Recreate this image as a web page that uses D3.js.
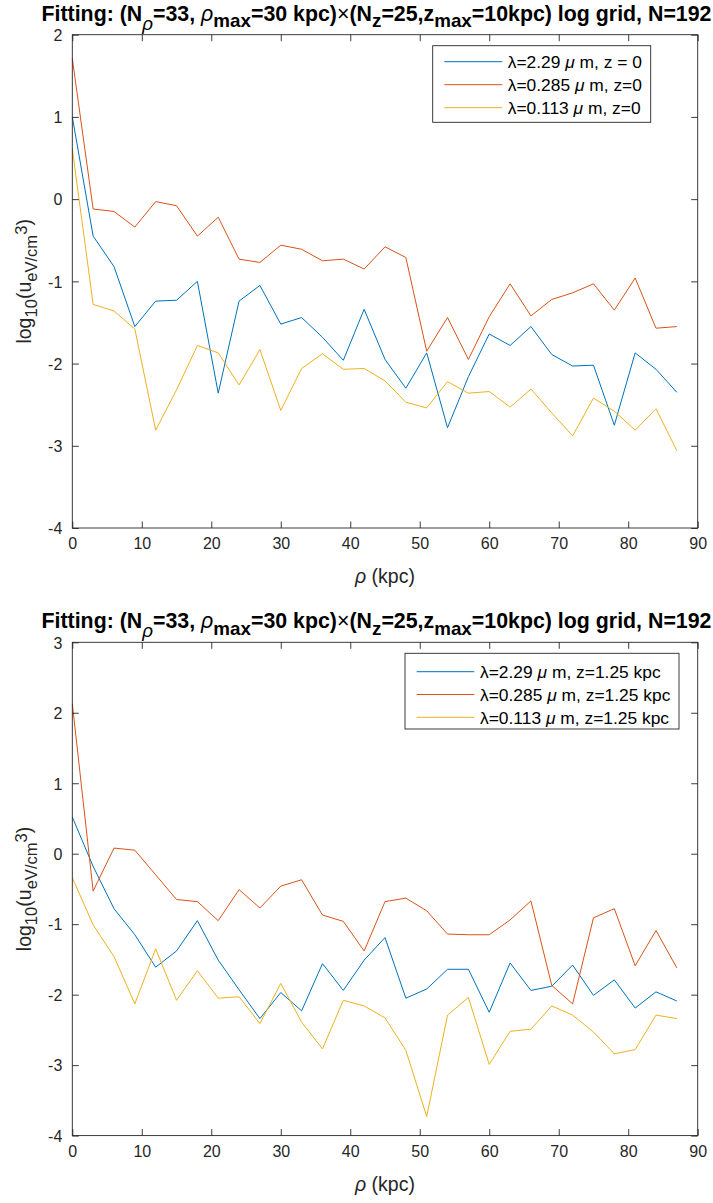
<!DOCTYPE html>
<html><head><meta charset="utf-8">
<script src="https://cdn.jsdelivr.net/npm/d3@7"></script>
<style>body{margin:0;background:#fff} svg{display:block}</style>
</head><body><svg id="c" width="713" height="1203"></svg>
<script>
// ---------- data ----------
const rho = [0,3,6,9,12,15,18,21,24,27,30,33,36,39,42,45,48,51,54,57,60,63,66,69,72,75,78,81,84,87];
const xTicks = [0,10,20,30,40,50,60,70,80,90];

// panel 1 : z = 0
const z0_l229  = [1.00,-0.45,-0.82,-1.55,-1.24,-1.23,-1.00,-2.36,-1.24,-1.05,-1.52,-1.44,-1.68,-1.96,-1.34,-1.95,-2.30,-1.87,-2.78,-2.16,-1.64,-1.78,-1.55,-1.89,-2.03,-2.02,-2.75,-1.87,-2.07,-2.35];
const z0_l0285 = [1.71,-0.12,-0.15,-0.34,-0.03,-0.08,-0.45,-0.22,-0.73,-0.77,-0.56,-0.61,-0.75,-0.73,-0.85,-0.58,-0.71,-1.85,-1.44,-1.95,-1.43,-1.03,-1.42,-1.22,-1.14,-1.03,-1.35,-0.96,-1.57,-1.55];
const z0_l0113 = [0.61,-1.28,-1.36,-1.58,-2.81,-2.32,-1.78,-1.87,-2.26,-1.83,-2.57,-2.06,-1.88,-2.07,-2.06,-2.21,-2.47,-2.54,-2.22,-2.36,-2.34,-2.53,-2.31,-2.60,-2.88,-2.42,-2.58,-2.81,-2.55,-3.06];
const z0_labels = ["λ=2.29 μ m, z = 0","λ=0.285 μ m, z=0","λ=0.113 μ m, z=0"];
const yTicks1 = [-4,-3,-2,-1,0,1,2];

// panel 2 : z = 1.25 kpc
const z125_l229  = [0.52,-0.18,-0.78,-1.15,-1.61,-1.38,-0.95,-1.51,-1.93,-2.34,-1.97,-2.23,-1.56,-1.94,-1.51,-1.19,-2.05,-1.92,-1.64,-1.64,-2.25,-1.55,-1.94,-1.88,-1.58,-2.01,-1.79,-2.19,-1.96,-2.09];
const z125_l0285 = [2.13,-0.53,0.08,0.05,-0.30,-0.65,-0.68,-0.95,-0.51,-0.77,-0.46,-0.37,-0.87,-0.96,-1.38,-0.68,-0.63,-0.81,-1.14,-1.15,-1.15,-0.94,-0.67,-1.87,-2.13,-0.91,-0.78,-1.59,-1.09,-1.62];
const z125_l0113 = [-0.34,-1.01,-1.46,-2.13,-1.35,-2.08,-1.66,-2.05,-2.03,-2.41,-1.84,-2.39,-2.77,-2.08,-2.16,-2.33,-2.79,-3.73,-2.29,-2.04,-2.99,-2.52,-2.49,-2.16,-2.29,-2.53,-2.84,-2.78,-2.29,-2.34];
const z125_labels = ["λ=2.29 μ m, z=1.25 kpc","λ=0.285 μ m, z=1.25 kpc","λ=0.113 μ m, z=1.25 kpc"];
const yTicks2 = [-4,-3,-2,-1,0,1,2,3];

const colors = ["#0072BD","#D95319","#EDB120"];

// ---------- drawing ----------
const svg = d3.select("#c");
const FONT = "'Liberation Sans', Arial, Helvetica, sans-serif";
const AX = "#262626";
const L = 72.3, R = 697.7;

function rich(g, segs, baseFs) {
  let cur = 0;
  segs.forEach(sg => {
    const target = sg.s === 'sub' ? (sg.off ?? 0.35*baseFs) : sg.s === 'sup' ? -(sg.off ?? 0.4*baseFs) : 0;
    const ts = g.append("tspan").text(sg.t).attr("dy", target - cur);
    cur = target;
    if (sg.fs) ts.attr("font-size", sg.fs);
    if (sg.it) ts.attr("font-style", "italic");
    if (sg.nb) ts.attr("font-weight", "normal");
  });
}

function titleSegs(fs) {
  const sfs = fs*0.88;
  return [
    {t:"Fitting: (N"},
    {t:"ρ", s:'sub', fs:sfs, it:true, nb:true, off:fs*0.42},
    {t:"=33, "},
    {t:"ρ", it:true, nb:true},
    {t:"max", s:'sub', fs:sfs, off:fs*0.3},
    {t:"=30 kpc)"},
    {t:"×", nb:true},
    {t:"(N"},
    {t:"z", s:'sub', fs:sfs, off:fs*0.3},
    {t:"=25,z"},
    {t:"max", s:'sub', fs:sfs, off:fs*0.3},
    {t:"=10kpc) log grid, N=192"}
  ];
}

function panel(cfg) {
  const x = d3.scaleLinear().domain([0,90]).range([L,R]);
  const y = d3.scaleLinear().domain(cfg.yDomain).range([cfg.bottom, cfg.top]);
  const g = svg.append("g");

  const line = d3.line().x((d,i)=>x(rho[i])).y(d=>y(d));
  cfg.series.forEach((s,i)=>{
    g.append("path").datum(s).attr("d", line).attr("fill","none")
      .attr("stroke", colors[i]).attr("stroke-width", 1).attr("stroke-linejoin","round");
  });

  g.append("rect").attr("x",L).attr("y",cfg.top).attr("width",R-L).attr("height",cfg.bottom-cfg.top)
    .attr("fill","none").attr("stroke",AX).attr("stroke-width",0.9);

  const tl = 6.5;
  const xa = d3.axisBottom(x).tickValues(xTicks).tickSizeInner(-tl).tickSizeOuter(0).tickPadding(10).tickFormat(d3.format("d"));
  const gx = g.append("g").attr("transform",`translate(0,${cfg.bottom})`).call(xa);
  const xt = d3.axisTop(x).tickValues(xTicks).tickSizeInner(-tl).tickSizeOuter(0).tickFormat("");
  const gxt = g.append("g").attr("transform",`translate(0,${cfg.top})`).call(xt);
  const ya = d3.axisLeft(y).tickValues(cfg.yTicks).tickSizeInner(-tl).tickSizeOuter(0).tickPadding(10).tickFormat(d3.format("d"));
  const gy = g.append("g").attr("transform",`translate(${L},0)`).call(ya);
  const yr = d3.axisRight(y).tickValues(cfg.yTicks).tickSizeInner(-tl).tickSizeOuter(0).tickFormat("");
  const gyr = g.append("g").attr("transform",`translate(${R},0)`).call(yr);
  [gx,gxt,gy,gyr].forEach(a=>{
    a.select(".domain").remove();
    a.selectAll("line").attr("stroke",AX).attr("stroke-width",0.9);
    a.selectAll("text").attr("fill",AX).attr("font-family",FONT).attr("font-size",16);
  });
  gx.selectAll("text").attr("dy","0.71em");
  gy.selectAll("text").attr("dy","0.36em").text(d=> d<0 ? "-"+Math.abs(d) : d);

  // title
  const tf = 21.3;
  const tt = g.append("text").attr("x", 376.5).attr("y", cfg.top - 14)
    .attr("text-anchor","middle").attr("font-family",FONT).attr("font-weight","bold")
    .attr("font-size",tf).attr("fill","#000")
    .attr("textLength", 670).attr("lengthAdjust","spacingAndGlyphs");
  rich(tt, titleSegs(tf), tf);

  // x label
  const lf = 19.5;
  const xl = g.append("text").attr("x",(L+R)/2).attr("y",cfg.bottom+55)
    .attr("text-anchor","middle").attr("font-family",FONT).attr("font-size",lf).attr("fill",AX);
  rich(xl, [{t:"ρ", it:true},{t:" (kpc)"}], lf);

  // y label
  const yl = g.append("text").attr("transform",`translate(31,${(cfg.top+cfg.bottom)/2}) rotate(-90)`)
    .attr("text-anchor","middle").attr("font-family",FONT).attr("font-size",lf).attr("fill",AX);
  rich(yl, [{t:"log"},{t:"10", s:'sub', fs:lf*0.85, off:lf*0.3},{t:"(u"},
            {t:"eV/cm", s:'sub', fs:lf*0.85, off:lf*0.3},{t:"3", s:'sup', fs:lf*0.85, off:lf*0.2},{t:")"}], lf);

  // legend
  const lg = cfg.legend;
  const gl = g.append("g");
  gl.append("rect").attr("x",lg.x).attr("y",lg.y).attr("width",lg.w).attr("height",lg.h)
    .attr("fill","#fff").attr("stroke",AX).attr("stroke-width",0.9);
  cfg.labels.forEach((lab,i)=>{
    const yy = lg.y + lg.r0 + i*lg.dr;
    gl.append("line").attr("x1",lg.x+lg.l1).attr("x2",lg.x+lg.l2).attr("y1",yy).attr("y2",yy)
      .attr("stroke",colors[i]).attr("stroke-width",1);
    const parts = lab.split(/(λ|μ)/).filter(p=>p.length);
    const tx = gl.append("text").attr("x",lg.x+lg.tx).attr("y",yy).attr("dy","0.36em")
      .attr("font-family",FONT).attr("font-size",17.4).attr("fill","#000");
    parts.forEach(p=>{ const ts = tx.append("tspan").text(p); if(p==="μ") ts.attr("font-style","italic"); });
  });
}

panel({top:34.7, bottom:528, yDomain:[-4,2], yTicks:yTicks1,
  series:[z0_l229, z0_l0285, z0_l0113], labels:z0_labels,
  legend:{x:432.7, y:45.7, w:218, h:76.6, r0:16, dr:23, l1:11.6, l2:69.6, tx:75}});
panel({top:642.3, bottom:1135.6, yDomain:[-4,3], yTicks:yTicks2,
  series:[z125_l229, z125_l0285, z125_l0113], labels:z125_labels,
  legend:{x:405, y:653.3, w:274, h:75.7, r0:18.4, dr:22.8, l1:11.7, l2:69.3, tx:75}});
</script></body></html>
